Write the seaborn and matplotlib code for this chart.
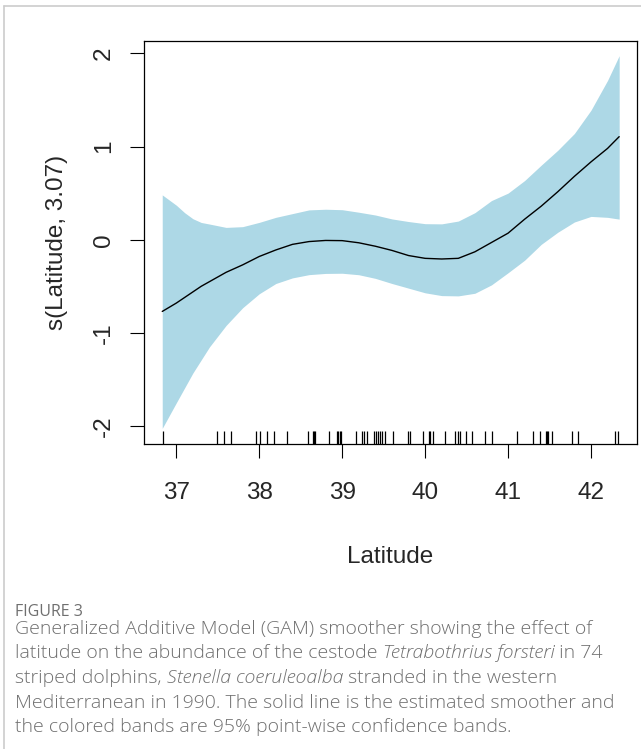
import numpy as np
import pandas as pd
import matplotlib
matplotlib.use("Agg")
import matplotlib.pyplot as plt
import seaborn as sns
from matplotlib.lines import Line2D

# ---------------- data ----------------
latitude = [36.83, 37.0, 37.1, 37.2, 37.3, 37.4, 37.6, 37.8, 38.0, 38.2, 38.4, 38.6, 38.8,
            39.0, 39.2, 39.4, 39.6, 39.8, 40.0, 40.2, 40.4, 40.6, 40.8, 41.0,
            41.2, 41.4, 41.6, 41.8, 42.0, 42.2, 42.34]
smooth = [-0.77, -0.68, -0.62, -0.56, -0.50, -0.45, -0.35, -0.27, -0.18, -0.11, -0.05, -0.02,
          -0.008, -0.01, -0.033, -0.07, -0.115, -0.17, -0.2, -0.207, -0.2, -0.13,
          -0.03, 0.07, 0.22, 0.36, 0.515, 0.68, 0.835, 0.98, 1.106]
upper = [0.481, 0.37, 0.29, 0.225, 0.185, 0.168, 0.132, 0.14, 0.186, 0.24, 0.28, 0.32, 0.327,
         0.322, 0.295, 0.265, 0.223, 0.195, 0.172, 0.17, 0.2, 0.29, 0.42, 0.50,
         0.635, 0.80, 0.96, 1.14, 1.39, 1.71, 1.975]
lower = [-2.025, -1.75, -1.59, -1.43, -1.29, -1.15, -0.92, -0.73, -0.58, -0.47, -0.41, -0.375,
         -0.362, -0.36, -0.376, -0.415, -0.47, -0.52, -0.57, -0.60, -0.603, -0.575,
         -0.485, -0.355, -0.22, -0.05, 0.08, 0.19, 0.25, 0.24, 0.221]
rug_lat = [36.835, 37.495, 37.574, 37.663, 37.957, 38.013, 38.089, 38.182, 38.331,
           38.587, 38.645, 38.657, 38.668, 38.837, 38.937, 38.954, 38.970, 38.986,
           39.163, 39.244, 39.268, 39.295, 39.388, 39.404, 39.437, 39.461, 39.480,
           39.513, 39.609, 39.799, 39.814, 39.977, 40.047, 40.064, 40.095, 40.236,
           40.363, 40.397, 40.421, 40.490, 40.566, 40.719, 40.807, 41.105, 41.298,
           41.382, 41.454, 41.470, 41.487, 41.536, 41.772, 41.847, 42.293, 42.330]
x_ticks = [37, 38, 39, 40, 41, 42]
y_ticks = [-2, -1, 0, 1, 2]
x_label = "Latitude"
y_label = "s(Latitude, 3.07)"
caption_title = "FIGURE 3"

df = pd.DataFrame({"Latitude": latitude, "fit": smooth, "upper": upper, "lower": lower})
rug_df = pd.DataFrame({"Latitude": rug_lat})

# ---------------- figure ----------------
sns.set_style("ticks")
plt.rcParams["font.family"] = ["Liberation Sans", "DejaVu Sans"]

fig = plt.figure(figsize=(6.41, 7.49), dpi=100)
ax = fig.add_axes([144 / 641, 1 - 444.3 / 749, (637 - 144) / 641, (444.3 - 40.7) / 749])

ax.fill_between(df["Latitude"], df["lower"], df["upper"], color="#ADD8E6", linewidth=0)
sns.lineplot(data=df, x="Latitude", y="fit", ax=ax, color="black", linewidth=1.0)
sns.rugplot(data=rug_df, x="Latitude", ax=ax, height=0.032, color="black", linewidth=0.9,
            expand_margins=False)

ax.set_xlim(36.61, 42.555)
ax.set_ylim(-2.196, 2.136)
ax.set_xticks(x_ticks)
ax.set_xticklabels([str(v) for v in x_ticks], fontsize=17.5)
ax.set_yticks(y_ticks)
ax.set_yticklabels([str(v) for v in y_ticks], fontsize=17.5, rotation=90, va="center")
ax.tick_params(axis="both", direction="out", length=10, width=0.8, color="black")
ax.tick_params(axis="x", pad=17.5)
ax.tick_params(axis="y", pad=11)
for s in ax.spines.values():
    s.set_visible(True)
    s.set_linewidth(0.9)
    s.set_color("black")

ax.set_xlabel(x_label, fontsize=17.5, labelpad=30)
ax.set_ylabel(y_label, fontsize=17.5, labelpad=18)

# outer light frame
fig.add_artist(Line2D([4 / 641, 1.0], [1 - 6 / 749, 1 - 6 / 749], color="#cccccc", lw=1.2,
                      transform=fig.transFigure))
fig.add_artist(Line2D([4 / 641, 4 / 641], [0, 1 - 6 / 749], color="#cccccc", lw=1.2,
                      transform=fig.transFigure))

# ---------------- caption ----------------
cap_color = "#6f6f6f"
cap_font = ["Open Sans", "DejaVu Sans"]
cap_size = 14.0
fig.text(15 / 641, 1 - 612 / 749, caption_title, fontsize=11.5, color=cap_color,
         family=cap_font, va="center", ha="left")

lines = [
    [("Generalized Additive Model (GAM) smoother showing the effect of", "normal")],
    [("latitude on the abundance of the cestode ", "normal"),
     ("Tetrabothrius forsteri", "italic"), (" in 74", "normal")],
    [("striped dolphins, ", "normal"), ("Stenella coeruleoalba", "italic"),
     (" stranded in the western", "normal")],
    [("Mediterranean in 1990. The solid line is the estimated smoother and", "normal")],
    [("the colored bands are 95% point-wise confidence bands.", "normal")],
]
line_y = [634, 658.5, 683, 707.5, 732]
fig.canvas.draw()
renderer = fig.canvas.get_renderer()
for parts, yy in zip(lines, line_y):
    x = 15
    for txt, style in parts:
        t = fig.text(x / 641, 1 - yy / 749, txt, fontsize=cap_size, color=cap_color,
                     family=cap_font, style=style, va="baseline", ha="left",
                     fontweight="light")
        bb = t.get_window_extent(renderer=renderer)
        x += bb.width

fig.savefig("out.png", dpi=100)
